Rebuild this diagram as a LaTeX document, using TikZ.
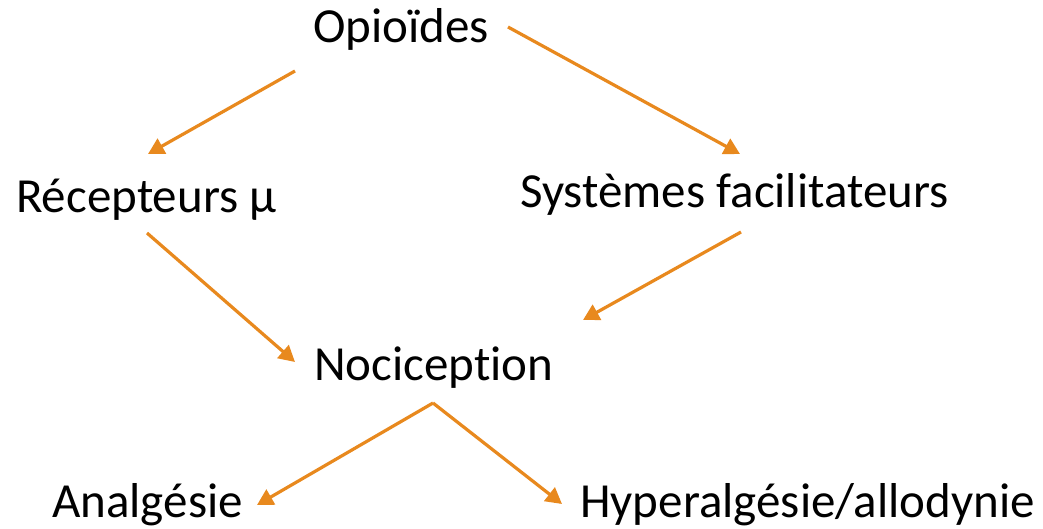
\documentclass[tikz,border=0pt]{standalone}
\usepackage{fontspec}
\setmainfont[Ligatures=NoCommon]{Carlito}
\usetikzlibrary{arrows.meta}

\definecolor{orangeflux}{RGB}{232,137,30}

\tikzset{
  terme/.style={anchor=base west, inner sep=0pt, font=\fontsize{49}{58}\selectfont},
  fleche/.style={draw=orangeflux, line width=3.2pt, -{Triangle[length=16pt,width=17pt]}}
}

\begin{document}
\begin{tikzpicture}[x=1pt, y=-1pt]

                \useasboundingbox (0,0) rectangle (1043,529);

                % ==========================================
                % TERMS
                % ==========================================

                % Text baselines
                \coordinate (T1) at (313, 43);   % Opioides
                \coordinate (T2) at (16, 213);   % Recepteurs
                \coordinate (T3) at (520, 208);  % Systemes
                \coordinate (T4) at (314, 380);  % Nociception
                \coordinate (T5) at (52, 517);   % Analgesie
                \coordinate (T6) at (580, 517);  % Hyperalgesie

                \node[terme] (opio) at (T1) {Opioïdes};
                \node[terme] (recep) at (T2) {Récepteurs µ};
                \node[terme] (syst) at (T3) {Systèmes facilitateurs};
                \node[terme] (noci) at (T4) {Nociception};
                \node[terme] (analg) at (T5) {Analgésie};
                \node[terme] (hyper) at (T6) {Hyperalgésie/allodynie};

                % ==========================================
                % ARROWS
                % ==========================================

                % Arrow ends
                \coordinate (A1s) at (295, 71);
                \coordinate (A1e) at (148, 154);
                \coordinate (A2s) at (508, 27);
                \coordinate (A2e) at (740, 154);
                \coordinate (A3s) at (147, 233);
                \coordinate (A3e) at (295, 362);
                \coordinate (A4s) at (741, 232);
                \coordinate (A4e) at (583, 320);
                \coordinate (Nv)  at (433, 403); % Split point under Nociception
                \coordinate (A5e) at (257, 505);
                \coordinate (A6e) at (562, 504);

                % Opioides to both sides
                \draw[fleche] (A1s) -- (A1e);
                \draw[fleche] (A2s) -- (A2e);

                % Both sides to Nociception
                \draw[fleche] (A3s) -- (A3e);
                \draw[fleche] (A4s) -- (A4e);

                % Nociception to outcomes
                \draw[fleche] (Nv) -- (A5e);
                \draw[fleche] (Nv) -- (A6e);

\end{tikzpicture}
\end{document}
